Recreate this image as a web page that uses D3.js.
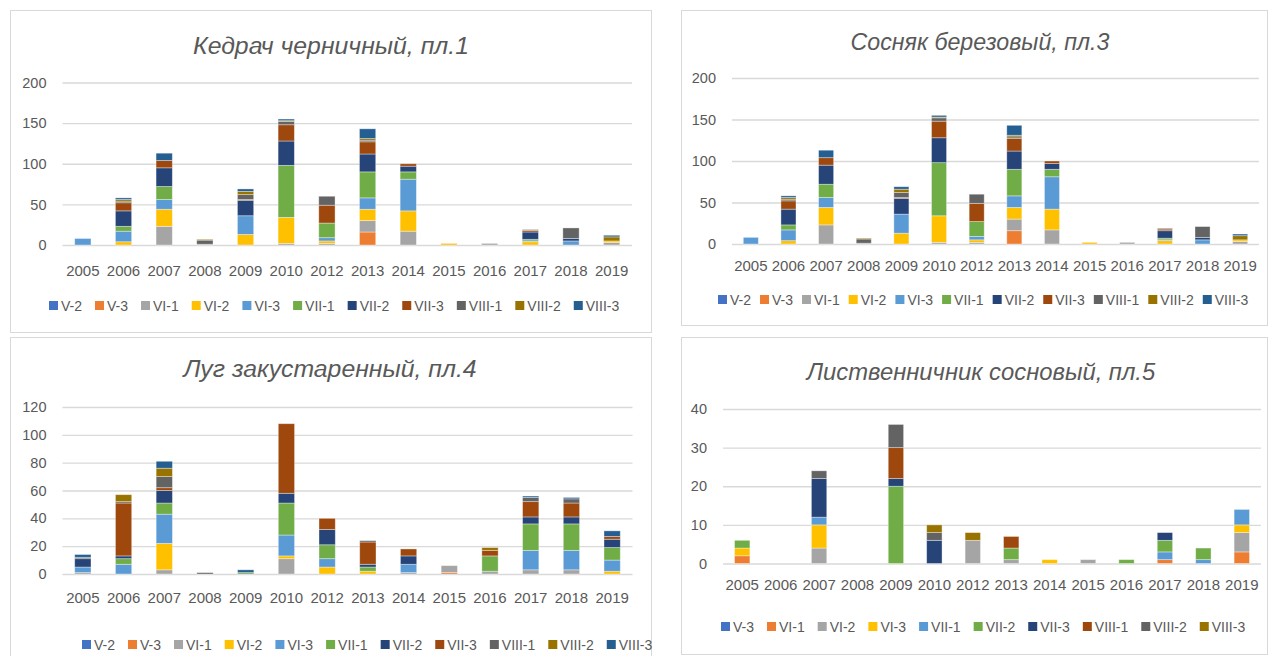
<!DOCTYPE html>
<html>
<head>
<meta charset="utf-8">
<script src="https://cdn.jsdelivr.net/npm/d3@7"></script>
<style>
  html, body { margin: 0; padding: 0; background: #fff; }
  svg { display: block; }
  text { font-family: "Liberation Sans", Arial, sans-serif; fill: #595959; }
</style>
</head>
<body>
<svg id="chart" width="1269" height="656"></svg>
<script>
// Years of observation (2011 was skipped)
const years = ["2005", "2006", "2007", "2008", "2009", "2010", "2012", "2013", "2014", "2015", "2016", "2017", "2018", "2019"];

// Series (phenological periods) for plots 1, 3 and 4
const periodsMain = ["V-2", "V-3", "VI-1", "VI-2", "VI-3", "VII-1", "VII-2", "VII-3", "VIII-1", "VIII-2", "VIII-3"];
// Series for plot 5
const periodsPlot5 = ["V-3", "VI-1", "VI-2", "VI-3", "VII-1", "VII-2", "VII-3", "VIII-1", "VIII-2", "VIII-3"];

// Office palette, in series order
const palette = ["#4472C4", "#ED7D31", "#A5A5A5", "#FFC000", "#5B9BD5", "#70AD47", "#264478", "#9E480E", "#636363", "#997300", "#255E91"];

// Counts per series (rows) and year (columns)
const kedrachValues = [
  [0, 0, 0, 0, 0, 0, 0, 0, 0, 0, 0, 0, 0, 0],      // V-2
  [0, 0, 0, 0, 0, 0, 0, 16, 0, 0, 0, 0, 0, 0],     // V-3
  [0, 0, 23, 1, 0, 2, 2, 14, 17, 0, 2, 0, 0, 3],   // VI-1
  [0, 4, 21, 0, 13, 32, 3, 14, 25, 2, 0, 4, 0, 2], // VI-2
  [8, 13, 12, 0, 23, 0, 4, 14, 39, 0, 0, 1, 5, 0], // VI-3
  [0, 6, 16, 0, 0, 64, 18, 32, 9, 0, 0, 2, 0, 0],  // VII-1
  [0, 19, 23, 0, 19, 30, 0, 22, 7, 0, 0, 9, 3, 0], // VII-2
  [0, 10, 9, 0, 1, 20, 22, 15, 3, 0, 0, 2, 0, 0],  // VII-3
  [0, 2, 0, 5, 6, 4, 11, 2, 0, 0, 0, 1, 13, 0],    // VIII-1
  [0, 2, 0, 1, 4, 1, 0, 2, 0, 0, 0, 0, 0, 5],      // VIII-2
  [0, 2, 9, 0, 3, 2, 0, 12, 0, 0, 0, 0, 0, 2]      // VIII-3
];

const sosnyakValues = [
  [0, 0, 0, 0, 0, 0, 0, 0, 0, 0, 0, 0, 0, 0],
  [0, 0, 0, 0, 0, 0, 0, 16, 0, 0, 0, 0, 0, 0],
  [0, 0, 23, 1, 0, 2, 2, 14, 17, 0, 2, 0, 0, 3],
  [0, 4, 21, 0, 13, 32, 3, 14, 25, 2, 0, 4, 0, 2],
  [8, 13, 12, 0, 23, 0, 4, 14, 39, 0, 0, 1, 5, 0],
  [0, 6, 16, 0, 0, 64, 18, 32, 9, 0, 0, 2, 0, 0],
  [0, 19, 23, 0, 19, 30, 0, 22, 7, 0, 0, 9, 3, 0],
  [0, 10, 9, 0, 1, 20, 22, 15, 3, 0, 0, 2, 0, 0],
  [0, 2, 0, 5, 6, 4, 11, 2, 0, 0, 0, 1, 13, 0],
  [0, 2, 0, 1, 4, 1, 0, 2, 0, 0, 0, 0, 0, 5],
  [0, 2, 9, 0, 3, 2, 0, 12, 0, 0, 0, 0, 0, 2]
];

const lugValues = [
  [0, 0, 0, 0, 0, 0, 0, 0, 0, 0, 0, 0, 0, 0],      // V-2
  [0, 0, 0, 0, 0, 0, 0, 0, 0, 1, 0, 0, 0, 0],      // V-3
  [1, 0, 3, 0, 0, 11, 0, 0, 1, 5, 2, 3, 3, 0],     // VI-1
  [0, 0, 19, 0, 0, 2, 5, 2, 0, 0, 0, 0, 0, 2],     // VI-2
  [4, 7, 21, 0, 0, 15, 6, 0, 6, 0, 0, 14, 14, 8],  // VI-3
  [0, 4, 8, 0, 1, 23, 10, 3, 0, 0, 11, 19, 19, 9], // VII-1
  [6, 2, 9, 0, 0, 7, 11, 2, 6, 0, 0, 5, 5, 6],     // VII-2
  [0, 38, 2, 0, 0, 50, 8, 16, 5, 0, 4, 11, 10, 2], // VII-3
  [1, 1, 8, 1, 0, 0, 0, 1, 0, 0, 0, 3, 3, 0],      // VIII-1
  [0, 5, 6, 0, 0, 0, 0, 0, 0, 0, 2, 0, 0, 0],      // VIII-2
  [2, 0, 5, 0, 2, 0, 0, 0, 0, 0, 0, 1, 1, 4]       // VIII-3
];

const listvennichnikValues = [
  [0, 0, 0, 0, 0, 0, 0, 0, 0, 0, 0, 0, 0, 0],      // V-3
  [2, 0, 0, 0, 0, 0, 0, 0, 0, 0, 0, 1, 0, 3],      // VI-1
  [0, 0, 4, 0, 0, 0, 6, 1, 0, 1, 0, 0, 0, 5],      // VI-2
  [2, 0, 6, 0, 0, 0, 0, 0, 1, 0, 0, 0, 0, 2],      // VI-3
  [0, 0, 2, 0, 0, 0, 0, 0, 0, 0, 0, 2, 1, 4],      // VII-1
  [2, 0, 0, 0, 20, 0, 0, 3, 0, 0, 1, 3, 3, 0],     // VII-2
  [0, 0, 10, 0, 2, 6, 0, 0, 0, 0, 0, 2, 0, 0],     // VII-3
  [0, 0, 0, 0, 8, 0, 0, 3, 0, 0, 0, 0, 0, 0],      // VIII-1
  [0, 0, 2, 0, 6, 2, 0, 0, 0, 0, 0, 0, 0, 0],      // VIII-2
  [0, 0, 0, 0, 0, 2, 2, 0, 0, 0, 0, 0, 0, 0]       // VIII-3
];

// Y-axis tick labels for each panel
const ticksPlot1 = [0, 50, 100, 150, 200];
const ticksPlot3 = [0, 50, 100, 150, 200];
const ticksPlot4 = [0, 20, 40, 60, 80, 100, 120];
const ticksPlot5 = [0, 10, 20, 30, 40];

const titles = ["Кедрач черничный, пл.1", "Сосняк березовый, пл.3", "Луг закустаренный, пл.4", "Лиственничник сосновый, пл.5"];

// Panel geometry
const panels = [
  { title: titles[0], names: periodsMain, values: kedrachValues, ticks: ticksPlot1,
    box: [10.5, 10.5, 641, 322], titleX: 331, titleY: 54, titleSize: 24.8,
    left: 62.5, right: 632, bottom: 245, top: 82.5, xLabelY: 276,
    legendX: 49, legendY: 306, legendGap: 13 },
  { title: titles[1], names: periodsMain, values: sosnyakValues, ticks: ticksPlot3,
    box: [681.5, 10.5, 586, 315], titleX: 980, titleY: 50, titleSize: 23.2,
    left: 732, right: 1259, bottom: 244, top: 78, xLabelY: 271,
    legendX: 718, legendY: 300, legendGap: 9 },
  { title: titles[2], names: periodsMain, values: lugValues, ticks: ticksPlot4,
    box: [10.5, 337.5, 641, 330], titleX: 330, titleY: 377, titleSize: 24.8,
    left: 62.5, right: 632.5, bottom: 574, top: 407, xLabelY: 603,
    legendX: 82, legendY: 645, legendGap: 13 },
  { title: titles[3], names: periodsPlot5, values: listvennichnikValues, ticks: ticksPlot5,
    box: [681.5, 337.5, 586, 317], titleX: 981, titleY: 380, titleSize: 23.8,
    left: 723, right: 1261, bottom: 563.5, top: 409, xLabelY: 590,
    legendX: 721, legendY: 627, legendGap: 13 }
];

const svg = d3.select("#chart");

panels.forEach(p => {
  const g = svg.append("g");

  // panel frame
  g.append("rect")
    .attr("x", p.box[0]).attr("y", p.box[1])
    .attr("width", p.box[2]).attr("height", p.box[3])
    .attr("fill", "#fff").attr("stroke", "#d9d9d9").attr("stroke-width", 1);

  // title
  g.append("text")
    .attr("x", p.titleX).attr("y", p.titleY)
    .attr("text-anchor", "middle")
    .style("font-size", p.titleSize + "px").style("font-style", "italic")
    .text(p.title);

  const x = d3.scaleBand().domain(years).range([p.left, p.right])
    .paddingInner(0.6).paddingOuter(0.3);
  const y = d3.scaleLinear().domain([0, d3.max(p.ticks)]).range([p.bottom, p.top]);

  // gridlines + y labels
  const yAxis = d3.axisLeft(y).tickValues(p.ticks).tickSize(-(p.right - p.left)).tickPadding(16);
  const ya = g.append("g").attr("transform", `translate(${p.left},0)`).call(yAxis);
  ya.select(".domain").remove();
  ya.selectAll("line").attr("stroke", "#d9d9d9").attr("stroke-width", 1.3);
  ya.selectAll("text").style("font-size", "14.5px").attr("fill", "#595959").style("font-family", "'Liberation Sans', Arial, sans-serif");

  // stacked bars
  const rows = years.map((yr, i) => {
    const r = { year: yr };
    p.names.forEach((n, k) => { r[n] = p.values[k][i]; });
    return r;
  });
  const stack = d3.stack().keys(p.names)(rows);
  const layers = g.append("g").selectAll("g").data(stack).join("g")
    .attr("fill", (d, k) => palette[k]);
  layers.selectAll("rect").data(d => d.filter(s => s[1] - s[0] > 0)).join("rect")
    .attr("x", d => x(d.data.year))
    .attr("width", x.bandwidth())
    .attr("y", d => y(d[1]))
    .attr("height", d => y(d[0]) - y(d[1]))
    .attr("stroke", "#ffffff").attr("stroke-opacity", 0.45).attr("stroke-width", 0.8);

  // x labels
  const xAxis = d3.axisBottom(x).tickSize(0).tickPadding(0);
  const xa = g.append("g").attr("transform", `translate(0,${p.xLabelY - 11})`).call(xAxis);
  xa.select(".domain").remove();
  xa.selectAll("text").style("font-size", "15px").attr("fill", "#595959")
    .attr("dy", "0.71em").style("font-family", "'Liberation Sans', Arial, sans-serif");

  // legend
  const lg = g.append("g");
  let cx = p.legendX;
  p.names.forEach((n, k) => {
    lg.append("rect").attr("x", cx).attr("y", p.legendY - 5)
      .attr("width", 9).attr("height", 9).attr("fill", palette[k]);
    const t = lg.append("text").attr("x", cx + 12).attr("y", p.legendY + 5)
      .style("font-size", "14px").text(n);
    cx += 12 + t.node().getComputedTextLength() + p.legendGap;
  });
});
</script>
</body>
</html>
